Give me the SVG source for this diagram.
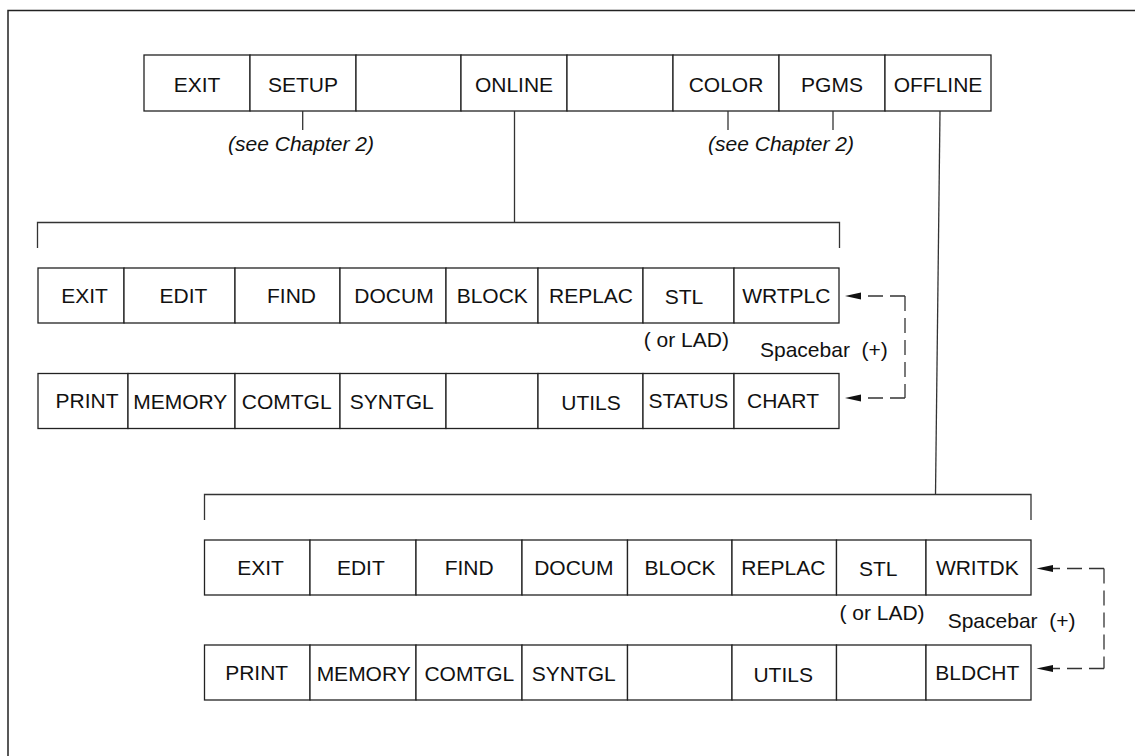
<svg xmlns="http://www.w3.org/2000/svg" width="1135" height="756" viewBox="0 0 1135 756">
<style>
.cell{fill:#fff;stroke:#222;stroke-width:1.3}
.lbl{font-family:"Liberation Sans",Arial,Helvetica,sans-serif;font-size:21px;text-anchor:middle;fill:#111}
.note{font-family:"Liberation Sans",Arial,Helvetica,sans-serif;font-size:21px;fill:#111;white-space:pre}
.it{font-style:italic;text-anchor:middle}
.ln{fill:none;stroke:#333;stroke-width:1.3}
.dash{fill:none;stroke:#333;stroke-width:1.3;stroke-dasharray:15 7}
.ah{fill:#111;stroke:none}
.frame{fill:none;stroke:#222;stroke-width:1.5}
</style>
<path class="frame" d="M8 756 V10.5 H1135"/>

<g id="top-menu">
<g id="t-exit"><rect class="cell" x="144" y="55" width="106" height="56"/><text class="lbl" x="197" y="91.5">EXIT</text></g>
<g id="t-setup"><rect class="cell" x="250" y="55" width="106" height="56"/><text class="lbl" x="303" y="91.5">SETUP</text></g>
<g id="t-blank1"><rect class="cell" x="356" y="55" width="105" height="56"/></g>
<g id="t-online"><rect class="cell" x="461" y="55" width="106" height="56"/><text class="lbl" x="514" y="91.5">ONLINE</text></g>
<g id="t-blank2"><rect class="cell" x="567" y="55" width="106" height="56"/></g>
<g id="t-color"><rect class="cell" x="673" y="55" width="106" height="56"/><text class="lbl" x="726" y="91.5">COLOR</text></g>
<g id="t-pgms"><rect class="cell" x="779" y="55" width="106" height="56"/><text class="lbl" x="832" y="91.5">PGMS</text></g>
<g id="t-offline"><rect class="cell" x="885" y="55" width="106" height="56"/><text class="lbl" x="938" y="91.5">OFFLINE</text></g>
</g>

<g id="notes-top">
<text class="note it" x="301" y="151">(see Chapter 2)</text>
<text class="note it" x="781" y="151">(see Chapter 2)</text>
</g>

<g id="online-row1">
<g id="on1-exit"><rect class="cell" x="38" y="268" width="86" height="55"/><text class="lbl" x="84.5" y="302.5">EXIT</text></g>
<g id="on1-edit"><rect class="cell" x="124" y="268" width="111" height="55"/><text class="lbl" x="183.5" y="302.5">EDIT</text></g>
<g id="on1-find"><rect class="cell" x="235" y="268" width="105" height="55"/><text class="lbl" x="291.5" y="302.5">FIND</text></g>
<g id="on1-docum"><rect class="cell" x="340" y="268" width="106" height="55"/><text class="lbl" x="394" y="302.5">DOCUM</text></g>
<g id="on1-block"><rect class="cell" x="446" y="268" width="92" height="55"/><text class="lbl" x="492.3" y="302.5">BLOCK</text></g>
<g id="on1-replac"><rect class="cell" x="538" y="268" width="105" height="55"/><text class="lbl" x="591" y="302.5">REPLAC</text></g>
<g id="on1-stl"><rect class="cell" x="643" y="268" width="91" height="55"/><text class="lbl" x="684" y="303.5">STL</text></g>
<g id="on1-wrtplc"><rect class="cell" x="734" y="268" width="105" height="55"/><text class="lbl" x="786.3" y="302.5">WRTPLC</text></g>
</g>

<g id="online-row2">
<g id="on2-print"><rect class="cell" x="38" y="373.5" width="90" height="55"/><text class="lbl" x="87" y="408">PRINT</text></g>
<g id="on2-memory"><rect class="cell" x="128" y="373.5" width="107" height="55"/><text class="lbl" x="180.3" y="408.5">MEMORY</text></g>
<g id="on2-comtgl"><rect class="cell" x="235" y="373.5" width="105" height="55"/><text class="lbl" x="286.7" y="408.5">COMTGL</text></g>
<g id="on2-syntgl"><rect class="cell" x="340" y="373.5" width="106" height="55"/><text class="lbl" x="391.7" y="408.5">SYNTGL</text></g>
<g id="on2-blank"><rect class="cell" x="446" y="373.5" width="92" height="55"/></g>
<g id="on2-utils"><rect class="cell" x="538" y="373.5" width="105" height="55"/><text class="lbl" x="591" y="410">UTILS</text></g>
<g id="on2-status"><rect class="cell" x="643" y="373.5" width="91" height="55"/><text class="lbl" x="688.3" y="407.5">STATUS</text></g>
<g id="on2-chart"><rect class="cell" x="734" y="373.5" width="105" height="55"/><text class="lbl" x="783" y="407.5">CHART</text></g>
</g>

<g id="online-notes">
<text class="note" x="686.3" y="346.5" text-anchor="middle">( or LAD)</text>
<text class="note" x="760" y="356.5">Spacebar  (+)</text>
</g>

<g id="offline-row1">
<g id="off1-exit"><rect class="cell" x="204.5" y="540" width="105.5" height="55"/><text class="lbl" x="260.5" y="575">EXIT</text></g>
<g id="off1-edit"><rect class="cell" x="310" y="540" width="106" height="55"/><text class="lbl" x="360.8" y="575">EDIT</text></g>
<g id="off1-find"><rect class="cell" x="416" y="540" width="106" height="55"/><text class="lbl" x="469.2" y="575">FIND</text></g>
<g id="off1-docum"><rect class="cell" x="522" y="540" width="105.5" height="55"/><text class="lbl" x="573.8" y="575">DOCUM</text></g>
<g id="off1-block"><rect class="cell" x="627.5" y="540" width="104.5" height="55"/><text class="lbl" x="680" y="575">BLOCK</text></g>
<g id="off1-replac"><rect class="cell" x="732" y="540" width="104.5" height="55"/><text class="lbl" x="783.3" y="575">REPLAC</text></g>
<g id="off1-stl"><rect class="cell" x="836.5" y="540" width="89.5" height="55"/><text class="lbl" x="878.3" y="576">STL</text></g>
<g id="off1-writdk"><rect class="cell" x="926" y="540" width="105" height="55"/><text class="lbl" x="977.3" y="575">WRITDK</text></g>
</g>

<g id="offline-row2">
<g id="off2-print"><rect class="cell" x="204.5" y="645" width="105.5" height="55"/><text class="lbl" x="256.7" y="680">PRINT</text></g>
<g id="off2-memory"><rect class="cell" x="310" y="645" width="106" height="55"/><text class="lbl" x="363.7" y="680.5">MEMORY</text></g>
<g id="off2-comtgl"><rect class="cell" x="416" y="645" width="106" height="55"/><text class="lbl" x="469.3" y="680.5">COMTGL</text></g>
<g id="off2-syntgl"><rect class="cell" x="522" y="645" width="105.5" height="55"/><text class="lbl" x="573.7" y="680.5">SYNTGL</text></g>
<g id="off2-blank1"><rect class="cell" x="627.5" y="645" width="104.5" height="55"/></g>
<g id="off2-utils"><rect class="cell" x="732" y="645" width="104.5" height="55"/><text class="lbl" x="783.2" y="681.5">UTILS</text></g>
<g id="off2-blank2"><rect class="cell" x="836.5" y="645" width="89.5" height="55"/></g>
<g id="off2-bldcht"><rect class="cell" x="926" y="645" width="105" height="55"/><text class="lbl" x="977.3" y="680">BLDCHT</text></g>
</g>

<g id="offline-notes">
<text class="note" x="882" y="620" text-anchor="middle">( or LAD)</text>
<text class="note" x="947.7" y="628.3">Spacebar  (+)</text>
</g>

<g id="connectors">
<path class="ln" d="M302.7 111 V130"/>
<path class="ln" d="M728 111 V130"/>
<path class="ln" d="M833 111 V130"/>
<path class="ln" d="M514.5 111 V222.5"/>
<path class="ln" d="M37.5 248 V222.5 H839.5 V248"/>
<path class="ln" d="M940 111 L935.5 494.5"/>
<path class="ln" d="M204.5 520 V494.5 H1031 V520"/>
<path class="dash" d="M905 296 H859"/>
<path class="dash" d="M905 296 V398"/>
<path class="dash" d="M905 398 H859"/>
<polygon class="ah" points="845,296 861,292.5 861,299.5"/>
<polygon class="ah" points="845,398 861,394.5 861,401.5"/>
<path class="dash" d="M1104 568.5 H1052"/>
<path class="dash" d="M1104 568.5 V668.5"/>
<path class="dash" d="M1104 668.5 H1052"/>
<polygon class="ah" points="1036.5,568.5 1053,565 1053,572"/>
<polygon class="ah" points="1036.5,668.5 1053,665 1053,672"/>
</g>
</svg>
